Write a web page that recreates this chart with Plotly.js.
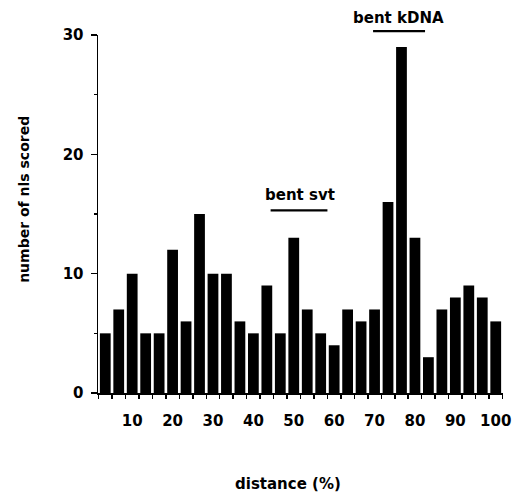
<!DOCTYPE html>
<html>
<head>
<meta charset="utf-8">
<script src="https://cdn.plot.ly/plotly-3.0.1.min.js"></script>
<style>html,body{margin:0;padding:0;background:#fff;}#chart{width:517px;height:495px;}</style>
</head>
<body>
<div id="chart"></div>
<script>
// bin index (1..30), each bin = 3.33% of distance
var bins = [1,2,3,4,5,6,7,8,9,10,11,12,13,14,15,16,17,18,19,20,21,22,23,24,25,26,27,28,29,30];
var counts = [5,7,10,5,5,12,6,15,10,10,6,5,9,5,13,7,5,4,7,6,7,16,29,13,3,7,8,9,8,6];
var tickPositions = [3,6,9,12,15,18,21,24,27,30];
var tickLabels = ['10','20','30','40','50','60','70','80','90','100'];
var yTicks = [0,10,20,30];

var FONT = 'DejaVu Sans, Arial, sans-serif';

var trace = {
  type: 'bar',
  x: bins,
  y: counts,
  width: 0.8,
  marker: {color: '#000', line: {width: 0}},
  hoverinfo: 'none'
};

var layout = {
  width: 517, height: 495,
  margin: {l: 98, r: 14, t: 35, b: 102},
  paper_bgcolor: '#fff', plot_bgcolor: '#fff',
  showlegend: false,
  font: {family: FONT, color: '#000', size: 15, weight: 'bold'},
  xaxis: {
    range: [0.46, 30.54],
    showline: true, linecolor: '#000', linewidth: 1.5,
    showgrid: false, zeroline: false,
    tickmode: 'array', tickvals: tickPositions, ticktext: tickLabels,
    ticks: 'outside', ticklen: 0,
    ticklabelstandoff: 13,
    tickfont: {family: FONT, size: 15, color: '#000', weight: 'bold'},
    minor: {tickmode: 'linear', tick0: 0.5, dtick: 1, ticks: 'outside', ticklen: 4, tickwidth: 1.5, tickcolor: '#000', showgrid: false}
  },
  yaxis: {
    range: [0, 30],
    showline: true, linecolor: '#000', linewidth: 1.5,
    showgrid: false, zeroline: false,
    tickmode: 'array', tickvals: yTicks,
    ticks: 'outside', ticklen: 6, tickwidth: 1.5, tickcolor: '#000',
    ticklabelstandoff: 4,
    tickfont: {family: FONT, size: 15, color: '#000', weight: 'bold'},
    minor: {tickmode: 'linear', tick0: 5, dtick: 10, ticks: 'outside', ticklen: 3, tickwidth: 1.2, tickcolor: '#000', showgrid: false}
  },
  shapes: [
    {type: 'line', xref: 'x', yref: 'y', x0: 13.28, x1: 17.5, y0: 15.3, y1: 15.3, line: {color: '#000', width: 2.3}},
    {type: 'line', xref: 'x', yref: 'paper', x0: 20.89, x1: 24.75, y0: 1.011, y1: 1.011, line: {color: '#000', width: 2.3}}
  ],
  annotations: [
    {text: 'bent svt', xref: 'x', yref: 'y', x: 15.47, y: 16.6, showarrow: false, xanchor: 'center', yanchor: 'middle',
     font: {family: FONT, size: 15, color: '#000', weight: 'bold'}},
    {text: 'bent kDNA', xref: 'x', yref: 'paper', x: 22.8, y: 1.047, showarrow: false, xanchor: 'center', yanchor: 'middle',
     font: {family: FONT, size: 15, color: '#000', weight: 'bold'}},
    {text: 'distance (%)', xref: 'paper', yref: 'paper', x: (288 - 98) / 405, y: (393.3 - 484) / 358.3, showarrow: false,
     xanchor: 'center', yanchor: 'middle', font: {family: FONT, size: 15, color: '#000', weight: 'bold'}},
    {text: 'number of nls scored', xref: 'paper', yref: 'paper', x: (24 - 98) / 405, y: (393.3 - 200) / 358.3, showarrow: false,
     textangle: -90, xanchor: 'center', yanchor: 'middle', font: {family: FONT, size: 14, color: '#000', weight: 'bold'}}
  ]
};

Plotly.newPlot('chart', [trace], layout, {displayModeBar: false, staticPlot: true});
</script>
</body>
</html>
